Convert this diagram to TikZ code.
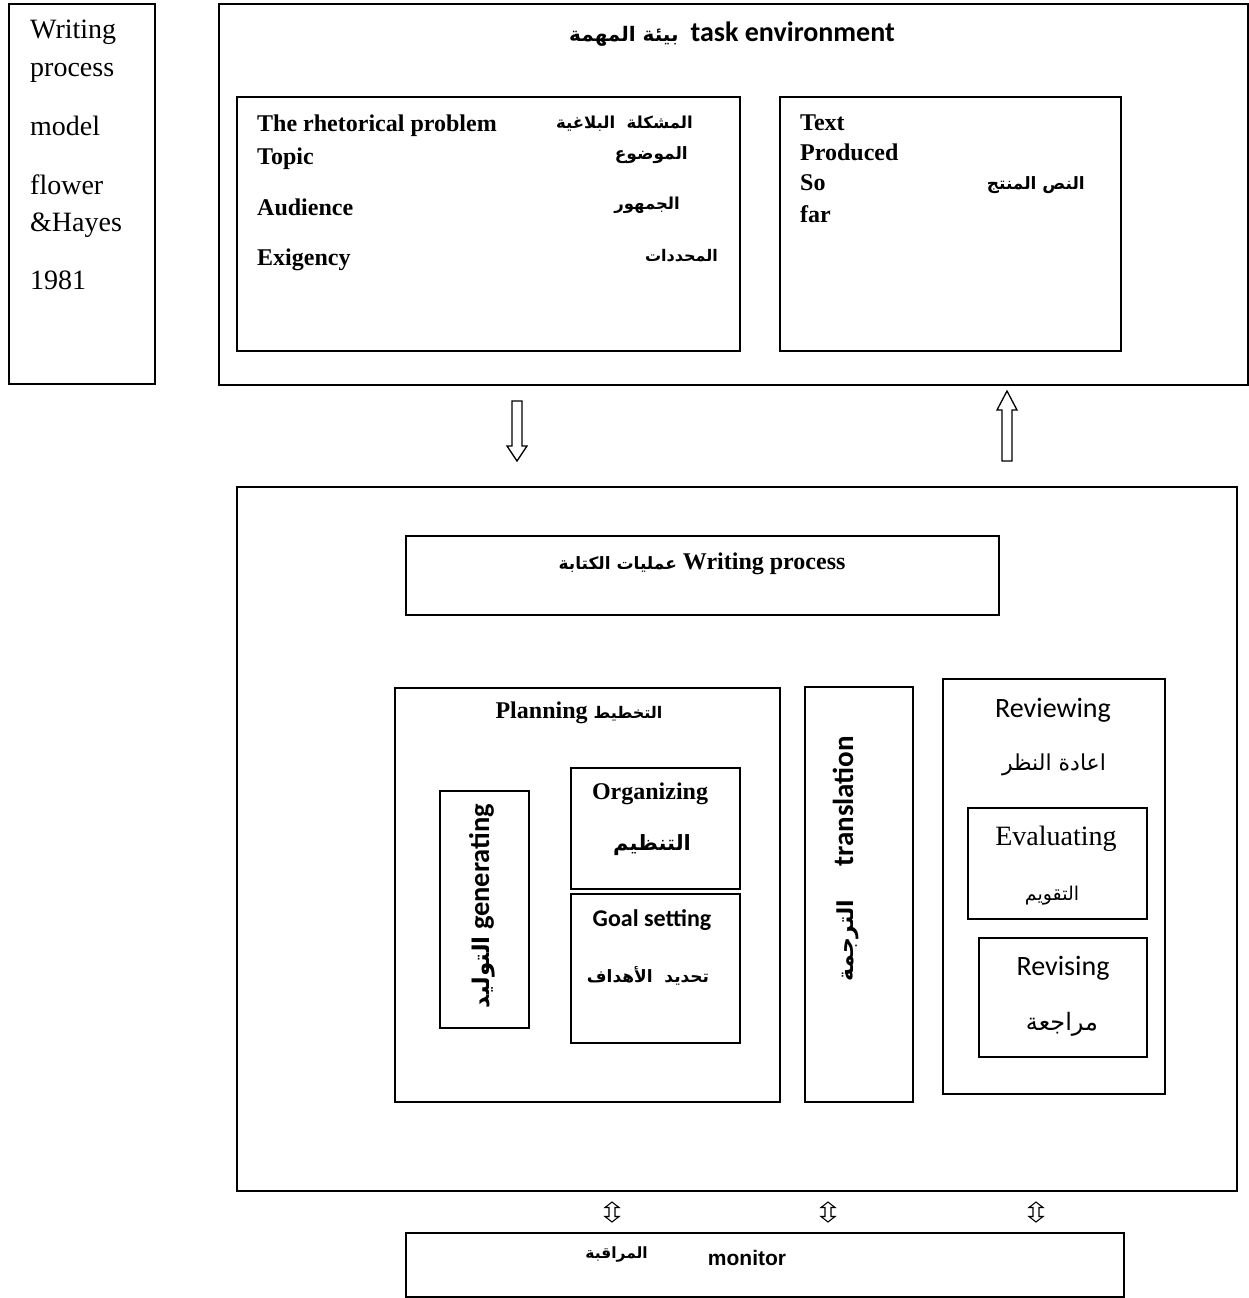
\documentclass[tikz,border=0pt]{standalone}
\usepackage{fontspec}
\setmainfont{Liberation Serif}
\newfontfamily\carlito{Carlito}
\newfontfamily\arialf{Liberation Sans}
\newfontfamily\arabicfont[Script=Arabic]{DejaVu Sans}
\TeXXeTstate=1
\newcommand\fsz[1]{\fontsize{#1}{#1}\selectfont}
\newcommand\artext[1]{{\arabicfont\beginR #1\endR}}
\begin{document}
\begin{tikzpicture}[x=1pt,y=-1pt,
  box/.style={draw, line width=1.6pt, inner sep=0pt, anchor=north west},
  outerbox/.style={box, line width=1.9pt},
  tl/.style={inner sep=0pt, anchor=base west},
  tr/.style={inner sep=0pt, anchor=base east},
  tc/.style={inner sep=0pt, anchor=base},
  blockarrow/.style={draw, line width=1.3pt, line join=miter, fill=white}]
\useasboundingbox (0,0) rectangle (1249,1298);
\clip (0,0) rectangle (1249,1298);
% boxes
\node[outerbox, minimum width=146pt, minimum height=380pt] (info) at (8,3) {};
\node[outerbox, minimum width=1029pt, minimum height=381pt] (task) at (218,3) {};
\node[box, minimum width=503pt, minimum height=254pt] (rhet) at (236,96) {};
\node[box, minimum width=341pt, minimum height=254pt] (textp) at (779,96) {};
\node[outerbox, minimum width=1000pt, minimum height=704pt] (proc) at (236,486) {};
\node[box, minimum width=593pt, minimum height=79pt] (wp) at (405,535) {};
\node[box, minimum width=385pt, minimum height=414pt] (plan) at (394,687) {};
\node[box, minimum width=89pt, minimum height=237pt] (gen) at (439,790) {};
\node[box, minimum width=169pt, minimum height=121pt] (org) at (570,767) {};
\node[box, minimum width=169pt, minimum height=149pt] (goal) at (570,893) {};
\node[box, minimum width=108pt, minimum height=415pt] (trans) at (804,686) {};
\node[box, minimum width=222pt, minimum height=415pt] (rev) at (942,678) {};
\node[box, minimum width=179pt, minimum height=111pt] (eval) at (967,807) {};
\node[box, minimum width=168pt, minimum height=119pt] (revs) at (978,937) {};
\node[box, minimum width=718pt, minimum height=64pt] (mon) at (405,1232) {};
% info text
\begin{scope}[every node/.style={tl}]
\node (i1) at (30,39) {\fsz{28}Writing};
\node (i2) at (30,77) {\fsz{28}process};
\node (i3) at (30,135) {\fsz{28}model};
\node (i4) at (30,194) {\fsz{28}flower};
\node (i5) at (30,231) {\fsz{28}\&Hayes};
\node (i6) at (30,289) {\fsz{28}1981};
\end{scope}
% task environment title
\node[tc] (tasktitle) at (732,42) {\fsz{24}\artext{\fsz{20}\bfseries بيئة المهمة}\ \ {\fsz{28}\carlito\bfseries task environment}};
% rhetorical problem
\node[tl] (r1) at (257,131) {\fsz{24}\bfseries The rhetorical problem};
\node[tl] (r2) at (257,164) {\fsz{24}\bfseries Topic};
\node[tl] (r3) at (257,215) {\fsz{24}\bfseries Audience};
\node[tl] (r4) at (257,265) {\fsz{24}\bfseries Exigency};
\node[tr] (a1) at (693,128) {\fsz{16.5}\artext{\bfseries المشكلة\ \ البلاغية}};
\node[tr] (a2) at (688,159) {\fsz{17}\artext{\bfseries الموضوع}};
\node[tr] (a3) at (680,209) {\fsz{16.5}\artext{\bfseries الجمهور}};
\node[tr] (a4) at (718,261) {\fsz{16}\artext{\bfseries المحددات}};
% text produced
\node[tl] (t1) at (800,130) {\fsz{24}\bfseries Text};
\node[tl] (t2) at (800,160) {\fsz{24}\bfseries Produced};
\node[tl] (t3) at (800,190) {\fsz{24}\bfseries So};
\node[tl] (t4) at (800,222) {\fsz{24}\bfseries far};
\node[tr] (t5) at (1085,189) {\fsz{17}\artext{\bfseries النص المنتج}};
% writing process
\node[tc] (wptext) at (702,569) {\fsz{24}\artext{\bfseries\fsz{17}عمليات الكتابة} \bfseries Writing process};
% planning
\node[tc] (plantext) at (579,718) {\fsz{24}\bfseries Planning \artext{\fsz{16}التخطيط}};
\node[tc] (orgtext) at (650,799) {\fsz{24}\bfseries Organizing};
\node[tc] (orgar) at (652,850) {\fsz{21}\artext{\bfseries التنظيم}};
\node[tc] (goaltext) at (652,926) {\fsz{24}\carlito\bfseries Goal setting};
\node[tc] (goalar) at (648,982) {\fsz{17}\artext{\bfseries تحديد\ \ الأهداف}};
\node[tc, rotate=90] (gentext) at (489,906) {\fsz{26}\artext{\fsz{23}\bfseries التوليد}\ {\fsz{28.5}\carlito\bfseries generating}};
% translation
\node[tc, rotate=90] (transtext) at (853,859) {\artext{\fsz{22}\bfseries الترجمة}\hspace{33pt}{\fsz{29}\carlito\bfseries translation}};
% reviewing
\node[tc] (revtext) at (1053,717) {\fsz{28}\carlito Reviewing};
\node[tc] (revar) at (1054,770) {\fsz{22}\artext{اعادة النظر}};
\node[tc] (evaltext) at (1056,845) {\fsz{28}Evaluating};
\node[tc] (evalar) at (1052,900) {\fsz{19}\artext{التقويم}};
\node[tc] (revstext) at (1063,975) {\fsz{28}\carlito Revising};
\node[tc] (revsar) at (1062,1030) {\fsz{24}\artext{مراجعة}};
% monitor
\node[tr] (monar) at (648,1258) {\fsz{15.5}\artext{\bfseries المراقبة}};
\node[tc] (montext) at (747,1265) {\fsz{21}\arialf\bfseries monitor};
% block arrows between task environment and writing processes
\coordinate (dntop) at (517,401);
\coordinate (upbot) at (1007,461);
\draw[blockarrow, shift={(dntop)}] (-5,0) -- (5,0) -- (5,45) -- (10,45) -- (0,60) -- (-10,45) -- (-5,45) -- cycle;
\draw[blockarrow, shift={(upbot)}] (-5,0) -- (5,0) -- (5,-51) -- (10,-51) -- (0,-70) -- (-10,-51) -- (-5,-51) -- cycle;
% double arrows between processes and monitor
\foreach \n/\xx in {d1/612, d2/828, d3/1036}{
  \coordinate (\n) at (\xx,1212);
  \draw[blockarrow, line width=1.1pt, shift={(\n)}] (0,-10) -- (7,-4.5) -- (3,-4.5) -- (3,4.5) -- (7,4.5) -- (0,10) -- (-7,4.5) -- (-3,4.5) -- (-3,-4.5) -- (-7,-4.5) -- cycle;
}
\end{tikzpicture}
\end{document}
